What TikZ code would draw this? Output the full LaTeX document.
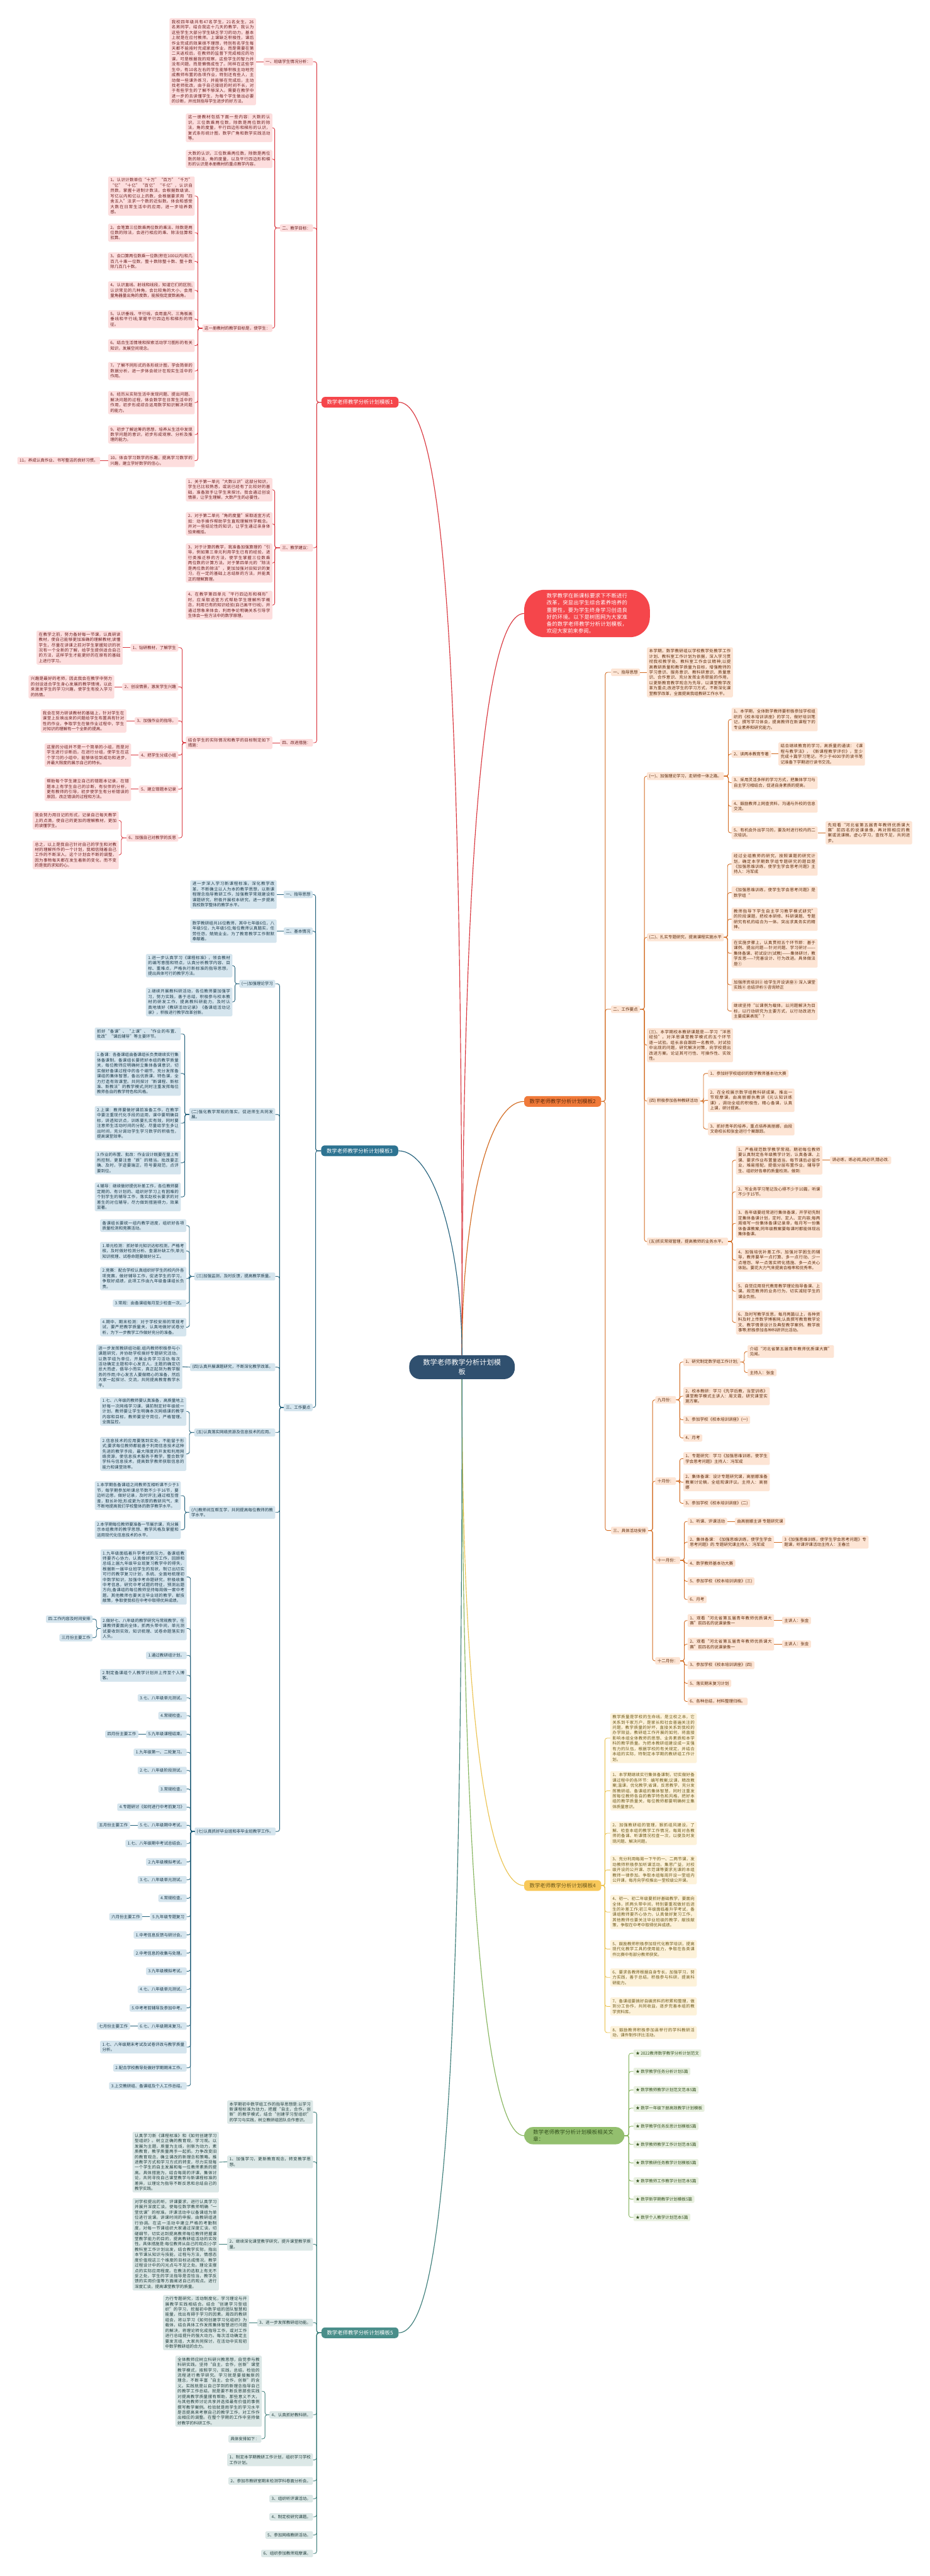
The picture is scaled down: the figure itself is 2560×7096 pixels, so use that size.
\documentclass[tikz,border=0pt]{standalone}
\usepackage{fontspec}
\setmainfont{Noto Sans CJK SC}
\XeTeXlinebreaklocale "zh"
\XeTeXlinebreakskip=0pt plus 1pt
\definecolor{rC}{HTML}{D9363E}\definecolor{rF}{HTML}{FDDEDE}\definecolor{rT}{HTML}{6B1F1F}\definecolor{rN}{HTML}{F5464B}
\definecolor{oC}{HTML}{D2691E}\definecolor{oF}{HTML}{FDE5D5}\definecolor{oT}{HTML}{5E2C0C}\definecolor{oN}{HTML}{F07A3A}
\definecolor{tC}{HTML}{23617C}\definecolor{tF}{HTML}{D5E5EE}\definecolor{tT}{HTML}{1C3A4A}\definecolor{tN}{HTML}{2D7391}
\definecolor{yC}{HTML}{EBC350}\definecolor{yF}{HTML}{FDF2DA}\definecolor{yT}{HTML}{6E5A1A}\definecolor{yN}{HTML}{F8C85A}
\definecolor{gC}{HTML}{86B55E}\definecolor{gF}{HTML}{E8F0E0}\definecolor{gT}{HTML}{35521F}\definecolor{gN}{HTML}{93BF6E}
\definecolor{fC}{HTML}{3C7D79}\definecolor{fF}{HTML}{DCE8E7}\definecolor{fT}{HTML}{223E3D}\definecolor{fN}{HTML}{4A8E8A}
\definecolor{cN}{HTML}{30506F}
\tikzset{
  tw/.style={text width=#1pt, align=justify},
  bx/.style={font=\fontsize{11.3}{14.6}\selectfont, inner xsep=6pt, inner ysep=5pt, rounded corners=3pt},
  rb/.style={bx, fill=rF, text=rT}, ob/.style={bx, fill=oF, text=oT},
  tb/.style={bx, fill=tF, text=tT}, yb/.style={bx, fill=yF, text=yT},
  gb/.style={bx, fill=gF, text=gT}, fb/.style={bx, fill=fF, text=fT},
  L/.style={anchor=west}, R/.style={anchor=east},
  topn/.style={font=\fontsize{14.5}{18}\selectfont, inner xsep=15pt, inner ysep=8pt, rounded corners=10pt},
  ln/.style={draw=#1, line width=1.5pt, rounded corners=6pt},
  mc/.style={draw=#1, line width=2pt},
}
\begin{document}
\begin{tikzpicture}[x=1pt,y=1pt]
\fill[white] (0,0) rectangle (2560,-7096);
\useasboundingbox (0,0) rectangle (2560,-7096);

% ---------------- centre ----------------
\node[fill=cN, text=white, font=\fontsize{19.5}{26}\selectfont, align=center, inner xsep=38pt, inner ysep=11pt, rounded corners=30pt] (C) at (1272,-3766) {数学老师教学分析计划模\\板};

% ---------------- intro ----------------
\node[fill=rN, text=white, font=\fontsize{14.5}{19.4}\selectfont, text width=222pt, align=justify, inner xsep=62pt, inner ysep=10pt, rounded corners=55pt, anchor=west] (intro) at (1443,-1690) {数学教学在新课标要求下不断进行改革，突显出学生综合素养培养的重要性，要为学生终身学习创造良好的环境。以下是树图网为大家准备的数学老师教学分析计划模板，欢迎大家前来参阅。};

% ---------------- module 1 (red) ----------------
\node[topn, fill=rN, text=white, anchor=west] (m1) at (885,-1108) {数学老师教学分析计划模板1};
\node[rb,R] (r1) at (862,-170) {一、班级学生情况分析：};
\node[rb,R] (r2) at (862,-628) {二、教学目标：};
\node[rb,R] (r3) at (862,-1509) {三、教学建议：};
\node[rb,R] (r4) at (862,-2046) {四、改进措施：};
\node[rb,R,tw=226] (r1a) at (705,-170) {我校四年级共有47名学生，21名女生，26名男同学，结合我这十几天的教学，我认为这些学生大部分学生缺乏学习的动力，基本上就是在应付教师。上课缺乏积极性，课后作业完成的效果很不理想，特别有名学生每天都不能按时完成家庭作业，而是需要在第二天返校后，在教师的监督下完成相应的功课，可是根据我的观察，这些学生的智力并没有问题，而是懒惰成性了。同样在这些学生中，有10名左右的学生能够积极主动地完成教师布置的各项作业，特别还有些人，主动做一些课外练习，并能够在完成后，主动找老师批改，由于自己接班的时间不长，对于有些学生的了解不够深入，需要在教学中进一步的去读懂学生，为每个学生做出必要的诊断，并找到指导学生进步的好方法。};
\node[rb,R,tw=226] (r2a) at (750,-352) {这一册教材包括下面一些内容：大数的认识，三位数乘两位数，除数是两位数的除法，角的度量，平行四边形和梯形的认识，复式条形统计图，数学广角和数学实践活动等。};
\node[rb,R,tw=226] (r2b) at (750,-438) {大数的认识，三位数乘两位数，除数是两位数的除法，角的度量，以及平行四边形和梯形的认识是本册教材的重点教学内容。};
\node[rb,R] (r2c) at (750,-904) {这一册教材的教学目标是，使学生：};
\node[rb,R,tw=226] (ra1) at (536,-540) {1。认识计数单位“十万”“百万”“千万”“亿”“十亿”“百亿”“千亿”，认识自然数，掌握十进制计数法，会根据数级读、写亿以内和亿以上的数，会根据要求用“四舍五入”法求一个数的近似数。体会和感受大数在日常生活中的应用，进一步培养数感。};
\node[rb,R,tw=226] (ra2) at (536,-641) {2。会笔算三位数乘两位数的乘法、除数是两位数的除法，会进行相应的乘、除法估算和验算。};
\node[rb,R,tw=226] (ra3) at (536,-720) {3。会口算两位数乘一位数(积在100以内)和几百几十乘一位数，整十数除整十数、整十数除几百几十数。};
\node[rb,R,tw=226] (ra4) at (536,-800) {4。认识直线、射线和线段，知道它们的区别;认识常见的几种角，会比较角的大小，会用量角器量出角的度数，能按指定度数画角。};
\node[rb,R,tw=226] (ra5) at (536,-879) {5。认识垂线、平行线，会用直尺、三角板画垂线和平行线;掌握平行四边形和梯形的特征。};
\node[rb,R,tw=226] (ra6) at (536,-952) {6。结合生活情境和探索活动学习图形的有关知识，发展空间观念。};
\node[rb,R,tw=226] (ra7) at (536,-1022) {7。了解不同形式的条形统计图，学会简单的数据分析，进一步体会统计在现实生活中的作用。};
\node[rb,R,tw=226] (ra8) at (536,-1109) {8。经历从实际生活中发现问题、提出问题、解决问题的过程，体会数学在日常生活中的作用，初步形成综合运用数学知识解决问题的能力。};
\node[rb,R,tw=226] (ra9) at (536,-1197) {9。初步了解运筹的思想，培养从生活中发现数学问题的意识，初步形成观察、分析及推理的能力。};
\node[rb,R,tw=226] (ra10) at (536,-1269) {10。体会学习数学的乐趣，提高学习数学的兴趣，建立学好数学的信心。};
\node[rb,R] (ra11) at (276,-1269) {11。养成认真作业、书写整洁的良好习惯。};
\node[rb,R,tw=226] (rb1) at (750,-1349) {1、关于第一单元“大数认识”这部分知识，学生已比较熟悉，或说已经有了比较好的基础，准备放手让学生来探讨。我会通过创设情景，让学生理解，大数产生的必要性。};
\node[rb,R,tw=226] (rb2) at (750,-1443) {2、对于第二单元“角的度量”采取适宜方式如：动手操作帮助学生直观理解所学概念。并对一些结论性的知识，让学生通过亲身体验来概括。};
\node[rb,R,tw=226] (rb3) at (750,-1551) {3、对于计算的教学，我准备加强算理的“引导，例如第三单元利用学生已有的经验，进行类推迁移的方法，使学生掌握三位数乘两位数的计算方法。对于第四单元的“除法是两位数的除法”，更加加强对旧知识的复习，在一定的基础上总结新的方法，并能真正的理解算理。};
\node[rb,R,tw=226] (rb4) at (750,-1667) {4、在教学第四单元“平行四边形和梯形”时，应采取适宜方式帮助学生理解所学概念，利用已有的知识经验(自己画平行线)，并通过想象来体会，利用争论明确关系引导学生体会一些方法中的数学原理。};
\node[rb,R,tw=226] (r4a) at (750,-2046) {结合学生的实际情况和教学的目标制定如下措施：};
\node[rb,R] (rc1) at (491,-1784) {1、钻研教材，了解学生};
\node[rb,R] (rc2) at (491,-1892) {2、创设情景，激发学生兴趣};
\node[rb,R] (rc3) at (491,-1986) {3、加强作业的指导。};
\node[rb,R] (rc4) at (491,-2080) {4、把学生分成小组};
\node[rb,R] (rc5) at (491,-2174) {5、建立错题本记录};
\node[rb,R] (rc6) at (491,-2308) {6、加强自己对教学的反思};
\node[rb,R,tw=225] (rc1a) at (338,-1784) {在教学之前，努力备好每一节课，认真研读教材，使自己能够更加准确的理解教材;读懂学生，尽量在讲课之前对学生掌握知识的状况有一个全新的了解，给学生提供适合自己的方法，这样学生才能更好的在原有的基础上进行学习。};
\node[rb,R,tw=224] (rc2a) at (315,-1892) {兴趣是最好的老师，因此我会在教学中努力的创设适合学生身心发展的教学情境，以此来激发学生的学习兴趣，使学生有投入学习的热情。};
\node[rb,R,tw=224] (rc3a) at (348,-1986) {我会在努力研读教材的基础上，针对学生在课堂上反映出来的问题给学生布置具有针对性的作业，争取学生在做作业过程中，学生对知识的理解有一个全新的提高。};
\node[rb,R,tw=226] (rc4a) at (361,-2080) {这里的分组并不是一个简单的小组，而是对学生进行诊断后，在进行分组，使学生在这个学习的小组中，能够体验到成功和进步，并最大限度的展示自己的特长。};
\node[rb,R,tw=226] (rc5a) at (361,-2174) {帮助每个学生建立自己的错题本记录，在错题本上有学生自己的诊断，有伙伴的分析，更有教师的引导，初步使学生有分析错误的原因，改正错误的过程和方法。};
\node[rb,R,tw=225] (rc6a) at (327,-2260) {我会努力用日记的形式，记录自己每天教学上的点滴，使自己的更加的理解教材，更加的读懂学生。};
\node[rb,R,tw=225] (rc6b) at (327,-2355) {总之，以上是我自己针对自己的学生和对教材的理解所作的一个计划，我相信随着自己工作的不断深入，这个计划会不断的调整，因为事物每天都在发生着新的变化，而不变的是我的求知的心。};

\foreach \c in {r1,r2,r3,r4} \draw[ln=rC] (m1.west) -- ++(-13,0) |- (\c.east);
\draw[ln=rC] (r1.west) -- (r1a.east);
\foreach \c in {r2a,r2b,r2c} \draw[ln=rC] (r2.west) -- ++(-14,0) |- (\c.east);
\foreach \c in {ra1,ra2,ra3,ra4,ra5,ra6,ra7,ra8,ra9,ra10} \draw[ln=rC] (r2c.west) -- ++(-12,0) |- (\c.east);
\draw[ln=rC] (ra10.west) -- (ra11.east);
\foreach \c in {rb1,rb2,rb3,rb4} \draw[ln=rC] (r3.west) -- ++(-14,0) |- (\c.east);
\draw[ln=rC] (r4.west) -- (r4a.east);
\foreach \c in {rc1,rc2,rc3,rc4,rc5,rc6} \draw[ln=rC] (r4a.west) -- ++(-10,0) |- (\c.east);
\draw[ln=rC] (rc1.west) -- (rc1a.east);
\draw[ln=rC] (rc2.west) -- (rc2a.east);
\draw[ln=rC] (rc3.west) -- (rc3a.east);
\draw[ln=rC] (rc4.west) -- (rc4a.east);
\draw[ln=rC] (rc5.west) -- (rc5a.east);
\foreach \c in {rc6a,rc6b} \draw[ln=rC] (rc6.west) -- ++(-14,0) |- (\c.east);

% ---------------- module 2 (orange) ----------------
\node[topn, fill=oN, text=oT, anchor=west] (m2) at (1443,-3034) {数学老师教学分析计划模板2};
\node[ob,L] (o1) at (1682,-1852) {一、指导思想};
\node[ob,L] (o2) at (1682,-2780) {二、工作要点};
\node[ob,L] (o3) at (1682,-4216) {三、具体活动安排};
\node[ob,L,tw=225] (o1a) at (1781,-1852) {本学期，数学教研组以学校教学处教学工作计划、教科室工作计划为依据，深入学习贯彻我校教学处、教科室工作会议精神;以提高教研质量和教学质量为目标，增强教师的学习意识、服务意识、教科研意识、质量意识、合作意识、充分发挥业务职能的作用，以更新教育教学观念为先导，以课堂教学改革为重点;改进学生的学习方式，不断深化课堂教学改革，全面提高我组教研工作水平。};
\node[ob,L] (o2a) at (1781,-2138) {(一)、加强理论学习，走研修一体之路。};
\node[ob,L] (o2b) at (1781,-2582) {(二)、扎实专题研究，提高课程实施水平};
\node[ob,L,tw=225] (o2c) at (1781,-2879) {(三)、本学期校本教研课题是----学习“洋思经验”，对洋思课堂教学模式的五个环节逐一试验。组长亲自跟踪一名教师，对试验中出现的问题，研究解决对策，向学校提出改进方案。论证其可行性、可操作性、实效性。};
\node[ob,L] (o2d) at (1781,-3033) {(四) 积极参加各种教研活动};
\node[ob,L] (o2e) at (1781,-3420) {(五)抓实常规管理，提高教师的业务水平。};
\node[ob,L,tw=225] (oa1) at (2014,-1982) {1、本学期，全体数学教师要积极参加学校组织的《校本培训讲座》的学习，做好培训笔记，撰写学习体会，提高教师在新课程下的专业素养和研究能力。};
\node[ob,L] (oa2) at (2014,-2077) {2、读两本教育专著};
\node[ob,L,tw=226] (oa2x) at (2143,-2077) {结合继续教育的学习，高质量的通读：《课程与教学法》，《新课程教学评价》，至少完成十篇学习笔记，不少于4000字的读书笔记准备下学期进行读书交流。};
\node[ob,L,tw=225] (oa3) at (2014,-2156) {3、采用灵活多样的学习方式，把集体学习与自主学习相结合，促进自身素质的提高。};
\node[ob,L,tw=225] (oa4) at (2014,-2221) {4、鼓励教师上网查资料，沟通与外校的信息交流。};
\node[ob,L,tw=225] (oa5) at (2014,-2294) {5、有机会外出学习的，要及时进行校内的二次培训。};
\node[ob,L,tw=226] (oa5x) at (2273,-2294) {先观看“河北省第五届青年教师优质课大赛”前四名的说课录像，再对照相应的教案或说课稿，虚心学习，查找不足，共同进步。};
\node[ob,L,tw=225] (ob1) at (2014,-2380) {经过全组教师的研究，按照课题的研究计划，确定本学期数学组专题研究的题目是《加强思维训练，使学生学会思考问题》主持人：冯军成};
\node[ob,L,tw=225] (ob2) at (2014,-2459) {《加强思维训练，使学生学会思考问题》是数学组“};
\node[ob,L,tw=225] (ob3) at (2014,-2532) {教师指导下学生自主学习教学模式研究”的阶段课题，把校本研修、科研课题、专题研究有机的结合为一体。突出求真务实的精神。};
\node[ob,L,tw=225] (ob4) at (2014,-2626) {在实施步骤上，认真贯彻五个环节即：基于课例、提出问题----针对问题、学习研讨-------集体备课、初试设计(试教)-------集体研讨，教学反思------?完善设计、行为改进。具体做法是①};
\node[ob,L,tw=225] (ob5) at (2014,-2713) {加强师资培训② 给学生开设讲座③ 深入课堂实践④ 总结评析⑤咨询矫正};
\node[ob,L,tw=225] (ob6) at (2014,-2785) {继续坚持“以课例为载体，以问题解决为目标，以行动研究为主要方式，以行动改进为主要成果表现”?};
\node[ob,L] (od1) at (1949,-2957) {1、参加好学校组织的数学教师基本功大赛};
\node[ob,L,tw=226] (od2) at (1949,-3031) {2、在全校展示数学组教科研成果，推出一节观摩课，由高丽娜执教讲《元认知训练课》，调动全组的积极性，精心备课，认真上课，研讨提高。};
\node[ob,L,tw=226] (od3) at (1949,-3110) {3、抓好青年的培养，重点培养高丽娜，由段文奇校长和张金进行个案跟踪。};
\node[ob,L,tw=226] (oe1) at (2026,-3196) {1、严格规范数学教学常规。期初每位教师要认真制定各年级教学计划，认真备课、上课、要求作业布置量适当，每节课后必留作业，难易搭配，提倡分层布置作业，辅导学生、组织好各章的质量检测。做到:};
\node[ob,L] (oe1x) at (2285,-3196) {讲必练，练必阅,阅必评,错必改.};
\node[ob,L,tw=226] (oe2) at (2026,-3283) {2、写业务学习笔记及心得不少于10篇，听课不少于15节。};
\node[ob,L,tw=226] (oe3) at (2026,-3370) {3、各年级要经常进行集体备课，开学初先制定集体备课计划，定时、定人、定内容;每两周填写一份集体备课记录单，每月写一份集体备课教案;同年级教案要每课时都能体现出集体备课。};
\node[ob,L,tw=226] (oe4) at (2026,-3471) {4、加强培优补差工作，加强对学困生的辅导，教师要早一点打算、多一点行动、少一点埋怨、早一点落实转化措施、多一点关心体贴。要花大力气来提高合格率和优秀率。};
\node[ob,L,tw=226] (oe5) at (2026,-3557) {5、自觉应用现代教育教学理论指导备课、上课。规范教师的业务行为，切实减轻学生的课业负担。};
\node[ob,L,tw=226] (oe6) at (2026,-3643) {6、及时写教学反思，每月两篇以上，各种资料及时上传数学博客网;认真撰写教育教学论文、教学情景设计及典型教学案例、教学故事等;积极参加各种科研评比活动。};
\node[ob,L] (o3a) at (1804,-3856) {九月份：};
\node[ob,L] (o3b) at (1804,-4080) {十月份：};
\node[ob,L] (o3c) at (1804,-4298) {十一月份：};
\node[ob,L] (o3d) at (1804,-4575) {十二月份：};
\node[ob,L] (s1) at (1881,-3752) {1、研究制定数学组工作计划;};
\node[ob,L,tw=226] (s1x) at (2058,-3723) {介绍“河北省第五届青年教师优质课大赛”见闻。};
\node[ob,L] (s1y) at (2058,-3781) {主持人：张金};
\node[ob,L,tw=226] (s2) at (1881,-3846) {2、校本教研：学习《先学后教，当堂训练》课堂教学模式主讲人：周文霞，研究课堂实施方案。};
\node[ob,L] (s3) at (1881,-3911) {3、参加学校《校本培训讲座》(一)};
\node[ob,L] (s4) at (1881,-3961) {4、月考};
\node[ob,L,tw=226] (u1) at (1881,-4018) {1、专题研究：学习《加强思维训练，使学生学会思考问题》主持人：冯军成};
\node[ob,L,tw=226] (u2) at (1881,-4083) {2、集体备课：设计专题研究课，高丽娜准备教案讨论稿，全组观课评议。主持人：高丽娜};
\node[ob,L] (u3) at (1881,-4141) {3、参加学校《校本培训讲座》(二)};
\node[ob,L] (v1) at (1893,-4191) {1、听课、评课活动};
\node[ob,L] (v1x) at (2023,-4191) {由高丽娜主讲 专题研究课};
\node[ob,L,tw=226] (v2) at (1893,-4248) {2、集体备课：《加强思维训练，使学生学会思考问题》的.专题研究课主持人：冯军成};
\node[ob,L,tw=226] (v2x) at (2153,-4248) {3《加强思维训练，使学生学会思考问题》专题课，听课评课活动主持人：王春兰};
\node[ob,L] (v4) at (1893,-4306) {4、数学教师基本功大赛};
\node[ob,L] (v5) at (1893,-4356) {5、参加学校《校本培训讲座》(三)};
\node[ob,L] (v6) at (1893,-4406) {6、月考};
\node[ob,L,tw=226] (w1) at (1893,-4464) {1、观看“河北省第五届青年教师优质课大赛”前四名的说课录像一};
\node[ob,L] (w1x) at (2153,-4464) {主讲人：张金};
\node[ob,L,tw=226] (w2) at (1893,-4529) {2、观看“河北省第五届青年教师优质课大赛”前四名的说课录像一};
\node[ob,L] (w2x) at (2153,-4529) {主讲人：张金};
\node[ob,L] (w3) at (1893,-4587) {3、参加学校《校本培训讲座》(四)};
\node[ob,L] (w5) at (1893,-4637) {5、落实期末复习计划};
\node[ob,L] (w6) at (1893,-4687) {6、各种总结，材料整理归档。};

\foreach \c in {o1,o2,o3} \draw[ln=oC] (m2.east) -- ++(11,0) |- (\c.west);
\draw[ln=oC] (o1.east) -- (o1a.west);
\foreach \c in {o2a,o2b,o2c,o2d,o2e} \draw[ln=oC] (o2.east) -- ++(12,0) |- (\c.west);
\foreach \c in {oa1,oa2,oa3,oa4,oa5} \draw[ln=oC] (o2a.east) -- ++(12,0) |- (\c.west);
\draw[ln=oC] (oa2.east) -- (oa2x.west);
\draw[ln=oC] (oa5.east) -- (oa5x.west);
\foreach \c in {ob1,ob2,ob3,ob4,ob5,ob6} \draw[ln=oC] (o2b.east) -- ++(10,0) |- (\c.west);
\foreach \c in {od1,od2,od3} \draw[ln=oC] (o2d.east) -- ++(9,0) |- (\c.west);
\foreach \c in {oe1,oe2,oe3,oe4,oe5,oe6} \draw[ln=oC] (o2e.east) -- ++(12,0) |- (\c.west);
\draw[ln=oC] (oe1.east) -- (oe1x.west);
\foreach \c in {o3a,o3b,o3c,o3d} \draw[ln=oC] (o3.east) -- ++(12,0) |- (\c.west);
\foreach \c in {s1,s2,s3,s4} \draw[ln=oC] (o3a.east) -- ++(10,0) |- (\c.west);
\foreach \c in {s1x,s1y} \draw[ln=oC] (s1.east) -- ++(11,0) |- (\c.west);
\foreach \c in {u1,u2,u3} \draw[ln=oC] (o3b.east) -- ++(10,0) |- (\c.west);
\foreach \c in {v1,v2,v4,v5,v6} \draw[ln=oC] (o3c.east) -- ++(11,0) |- (\c.west);
\draw[ln=oC] (v1.east) -- (v1x.west);
\draw[ln=oC] (v2.east) -- (v2x.west);
\foreach \c in {w1,w2,w3,w5,w6} \draw[ln=oC] (o3d.east) -- ++(11,0) |- (\c.west);
\draw[ln=oC] (w1.east) -- (w1x.west);
\draw[ln=oC] (w2.east) -- (w2x.west);

% ---------------- module 4 (yellow) ----------------
\node[topn, fill=yN, text=yT, anchor=west] (m4) at (1443,-5194) {数学老师教学分析计划模板4};
\node[yb,L,tw=226] (y0) at (1680,-4788) {教学质量是学校的生命线，是立校之本，它关系到千家万户，是家长和社会普遍关注的问题，教学质量的好坏，直接关系到我校的办学效益，教研组工作开展的如何，将直接影响本组全体教师的思想、业务素质和本学科的教学质量。为把本教研组建设成一支强有力的队伍，根据学校的有关规定，并结合本组的实际，特制定本学期的教研组工作计划。};
\node[yb,L,tw=226] (y1) at (1680,-4933) {1、本学期继续实行集体备课制，切实做好备课过程中的各环节：编写教案;议课，精改教案;温课，优化教学;省课，反思教学，充分发挥教研组、备课组的集体智慧，同时注重发挥每位教师各自的教学特色和风格，把好本组的教学质量关，每位教师都要明确树立集体质量意识。};
\node[yb,L,tw=226] (y2) at (1680,-5050) {2、加强教研组的管理，狠抓组风建设，了解、检查本组的教学工作情况，每周对各教师的备课、听课情况检查一次，以便及时发现问题、解决问题。};
\node[yb,L,tw=226] (y3) at (1680,-5151) {3、充分利用每周一下午的一、二两节课，发动教师积极参加听课活动，集思广益，对校级开设的公开课、示范课等要求无课的本组教师一律参加。争取本组每周开设一堂组内公开课，每月向学校推出一堂校级公开课。};
\node[yb,L,tw=226] (y4) at (1680,-5267) {4、初一、初二年级要抓好基础教学，要面向全体，抓两头带中间，特别要重视做好后进生的补差工作;初三年级面临着升学考试，备课组教师要齐心协力，认真做好复习工作，其他教师也要关注毕业班级的教学，献技献策，争取在中考中取得优异成绩。};
\node[yb,L,tw=226] (y5) at (1680,-5369) {5、鼓励教师积极参加现代化教学培训，提高现代化教学工具的使用能力，争取在各类课件比赛中有部分教师获奖。};
\node[yb,L,tw=226] (y6) at (1680,-5447) {6、要求各教师根据自身专长，加强学习，努力实践，善于总结，积极参与科研，提高科研能力。};
\node[yb,L,tw=226] (y7) at (1680,-5527) {7、备课组要搞好自编资料的积累和整理，做到分工协作，共同收益，逐步完善本组的教学资料库。};
\node[yb,L,tw=226] (y8) at (1680,-5599) {8、鼓励教师积极参加县举行的学科教研活动，课件制作评比活动。};
\foreach \c in {y0,y1,y2,y3,y4,y5,y6,y7,y8} \draw[ln=yC] (m4.east) -- ++(10,0) |- (\c.west);

% ---------------- related (green) ----------------
\node[fill=gN, text=gT, font=\fontsize{14.5}{18}\selectfont, text width=226pt, align=left, inner xsep=25pt, inner ysep=8pt, rounded corners=24pt, anchor=west] (m6) at (1443,-5883) {数学老师教学分析计划模板相关文章：};
\node[gb,L] (g1) at (1744,-5656) {★ 2022教师数学教学分析计划范文};
\node[gb,L] (g2) at (1744,-5706) {★ 数学教学任务分析计划5篇};
\node[gb,L] (g3) at (1744,-5757) {★ 数学教师教学计划范文范本5篇};
\node[gb,L] (g4) at (1744,-5807) {★ 数学一年级下册高效教学计划模板};
\node[gb,L] (g5) at (1744,-5857) {★ 数学教学任务反思计划模板5篇};
\node[gb,L] (g6) at (1744,-5907) {★ 数学教师教学工作计划范本5篇};
\node[gb,L] (g7) at (1744,-5958) {★ 数学教研任务教学计划模板5篇};
\node[gb,L] (g8) at (1744,-6008) {★ 数学教师工作教学计划范本5篇};
\node[gb,L] (g9) at (1744,-6058) {★ 数学新学期教学计划模板5篇};
\node[gb,L] (g10) at (1744,-6108) {★ 数学个人教学计划范本5篇};
\foreach \c in {g1,g2,g3,g4,g5,g6,g7,g8,g9,g10} \draw[ln=gC] (m6.east) -- ++(12,0) |- (\c.west);

% ---------------- module 3 (teal) ----------------
\node[topn, fill=tN, text=white, anchor=west] (m3) at (884,-3170) {数学老师教学分析计划模板3};
\node[tb,R] (t1) at (861,-2464) {一、指导思想};
\node[tb,R] (t2) at (861,-2565) {二、基本情况};
\node[tb,R] (t3) at (861,-3877) {三、工作要点};
\node[tb,R,tw=226] (t1a) at (762,-2464) {进一步深入学习新课程标准，深化教学改革，不断确立以人为本的教学思想，以新课程理念指导教研工作，加强教学常规建设和课题研究，积极开展校本研究，进一步提高我校数学整体的教学水平。};
\node[tb,R,tw=226] (t2a) at (762,-2565) {数学教研组共16位教师，其中七年级6位，八年级5位，九年级5位;每位教师认真踏实，任劳任怨，兢兢业业。为了教育教学工作默默奉献着。};
\node[tb,R] (t3a) at (758,-2710) {(一)加强理论学习};
\node[tb,R,tw=225] (t3b) at (758,-3070) {(二)强化教学常规的落实，促进师生共同发展。};
\node[tb,R] (t3c) at (758,-3516) {(三)加强监测，及时反馈，提高教学质量。};
\node[tb,R] (t3d) at (758,-3766) {(四)认真开展课题研究，不断深化教学改革。};
\node[tb,R] (t3e) at (758,-3946) {(五)认真落实网络资源及信息技术的应用。};
\node[tb,R,tw=225] (t3f) at (758,-4166) {(六)教师间互帮互学，共同提高每位教师的教学水平。};
\node[tb,R] (t3g) at (759,-5045) {(七)认真抓好毕业班和非毕业班教学工作。};
\node[tb,R,tw=226] (ta1) at (640,-2660) {1.进一步认真学习《课程标准》，领会教材的编写意图和特点，认真分析教学内容、目标、重难点，严格执行新标准的指导思想，提出具体可行的教学方法。};
\node[tb,R,tw=226] (ta2) at (640,-2760) {2.继续开展教科研活动，各位教师要加强学习，努力实践，善于总结，积极参与校本教材的研发工作，提高教科研能力，及时认真地填好《教研活动记录》《备课组活动记录》，积极进行教学改革创新。};
\node[tb,R,tw=225] (tb0) at (498,-2848) {抓好“备课”、“上课”、“作业的布置、批改”“课后辅导”等主要环节。};
\node[tb,R,tw=225] (tb1) at (498,-2957) {1.备课：各备课组由备课组长负责继续实行集体备课制，备课组长要把好本组的教学质量关，每位教师应明确树立集体备课意识，切实做好备课过程中的各个细节，充分发挥备课组的集体智慧，备出优质课，特色课，全力打造有效课堂。共同探讨“新课程、新标准、新教法”的教学模式;同时注重发挥每位教师各自的教学特色和风格。};
\node[tb,R,tw=225] (tb2) at (498,-3094) {2.上课：教师要做好课前准备工作，在教学中要注重现代化手段的运用，课中要明确目标，讲透知识点，训练要扎实有效，同时要注意师生活动时间的分配，尽量给学生多让出时间，充分调动学生学习数学的积极性，提高课堂效率。};
\node[tb,R,tw=225] (tb3) at (498,-3203) {3.作业的布置、批改：作业设计既要在量上有所控制，更要注意“质”的精当。批改要正确、及时，字迹要端正，符号要规范，点评要到位。};
\node[tb,R,tw=225] (tb4) at (498,-3297) {4.辅导：继续做好提优补差工作，各位教师要定期的、有计划的、组织好学习上有困难的个别学生的辅导工作，落实赵校长要求的对差生的对位辅导，尽力做到措施得力，效果显著。};
\node[tb,R,tw=225] (tc0) at (513,-3376) {备课组长要统一组内教学进度，组织好各项质量检测和竞赛活动。};
\node[tb,R,tw=225] (tc1) at (513,-3446) {1.单元检测：抓好单元知识达标检测，严格考核，及时做好检测分析、查漏补缺工作;单元知识梳理、试卷命题要做好分工。};
\node[tb,R,tw=225] (tc2) at (513,-3522) {2.竞赛：配合学校认真组织好学生的校内外各项竞赛，做好辅导工作，促进学生的学习，争取好成绩，此项工作由九年级备课组长负责。};
\node[tb,R] (tc3) at (513,-3590) {3.常规：由备课组每月至少检查一次。};
\node[tb,R,tw=225] (tc4) at (513,-3656) {4.期中、期末检测：对于学校安排的常规考试，要严把教学质量关，认真地做好试卷分析，为下一步教学工作做好充分的准备。};
\node[tb,R,tw=225] (td1) at (502,-3765) {进一步发挥教研组功能.组内教师积极参与小课题研究，并协助学校搞好专题研究活动。以数学组为单位，开展业务学习活动.每次活动确定主题和中心发言人，主题的确定切忌大而虚，倡导小而实，真正起到为教学服务的作用;中心发言人要做精心的准备，然后大家一起探讨、交流，共同提高教育教学水平。};
\node[tb,R,tw=225] (te1) at (513,-3888) {1.七、八年级的教师要认真准备，高质量地上好每一次网络学习课，课前制定好年级统一计划，教师要让学生明确本次网络课的教学内容和目标，教师要坚守岗位，严格管理、全面监控。};
\node[tb,R,tw=225] (te2) at (513,-4005) {2.信息技术的应用要落到实处，不能留于形式;要求每位教师都能善于利用信息技术这种先进的教学手段，最大限度的开发和利用网络资源，使信息技术服务于教学，整合数学学科与信息技术，提高数学教师获取信息的能力和课堂效率。};
\node[tb,R,tw=225] (tf1) at (498,-4120) {1.本学期各备课组之间教师互相听课不少于3节，每学期参加听课总节数不少于16节，要边听边思，做好记录，及时评注;通过相互借鉴，取长补短;形成更为浓厚的教研风气，来不断地提高我们学校整体的数学教学水平。};
\node[tb,R,tw=225] (tf2) at (498,-4214) {2.本学期每位教师要准备一节展示课，充分展示本组教师的教学思想、教学风格及掌握和运用现代化信息技术的水平。};
\node[tb,R,tw=225] (c1) at (514,-4344) {1.九年级面临着升学考试的压力，备课组教师要齐心协力，认真做好复习工作，回顾和总结上届九年级毕业班复习教学中的得失，根据新一届毕业班学生的现状，制订出切实可行的教学复习计划，系统、全面地梳理初中数学知识，加强中考命题研究，积极收集中考信息，研究中考试题的特征，预测出题方向;备课组的每位教师坚持每周做一套中考题。其他教师也要关注毕业班的教学，献技献策，争取使我校在中考中取得优异成绩。};
\node[tb,R,tw=225] (c2) at (514,-4486) {2.做好七、八年级的教学研究与常规教学，任课教师要面向全体，抓两头带中间，单元测试要收到实效，知识梳理、试卷命题落实到人头。};
\node[tb,R] (c2a) at (255,-4460) {四.工作内容及时间安排};
\node[tb,R] (c2b) at (255,-4511) {三月份主要工作};
\node[tb,R] (c3) at (514,-4560) {1.通过教研组计划。};
\node[tb,R,tw=226] (c4) at (514,-4615) {2.制定备课组个人教学计划并上传至个人博客。};
\node[tb,R] (c5) at (514,-4677) {3.七、八年级单元测试。};
\node[tb,R] (c6) at (514,-4726) {4.常规检查。};
\node[tb,R] (c7) at (514,-4777) {5.九年级课程结束。};
\node[tb,R] (c7a) at (381,-4777) {四月份主要工作};
\node[tb,R] (c8) at (514,-4827) {1.九年级第一、二轮复习。};
\node[tb,R] (c9) at (514,-4877) {2.七、八年级阶段测试。};
\node[tb,R] (c10) at (514,-4928) {3.常规检查。};
\node[tb,R] (c11) at (514,-4978) {4.专题研讨《如何进行中考前复习》};
\node[tb,R] (c12) at (514,-5028) {5.七、八年级期中考试。};
\node[tb,R] (c12a) at (358,-5028) {五月份主要工作};
\node[tb,R] (c13) at (514,-5078) {1.七、八年级期中考试总结会。};
\node[tb,R] (c14) at (514,-5129) {2.九年级模拟考试。};
\node[tb,R] (c15) at (514,-5178) {3.七、八年级单元测试。};
\node[tb,R] (c16) at (514,-5229) {4.常规检查。};
\node[tb,R] (c17) at (514,-5280) {5.九年级专题复习};
\node[tb,R] (c17a) at (392,-5280) {六月份主要工作};
\node[tb,R] (c18) at (514,-5330) {1.中考信息反馈与研讨会。};
\node[tb,R] (c19) at (514,-5380) {2.中考信息的收集与处理。};
\node[tb,R] (c20) at (514,-5430) {3.九年级模拟考试。};
\node[tb,R] (c21) at (514,-5480) {4.七、八年级单元测试。};
\node[tb,R] (c22) at (514,-5531) {5.中考考前辅导及参加中考。};
\node[tb,R] (c23) at (514,-5581) {6.七、八年级期末复习。};
\node[tb,R] (c23a) at (358,-5581) {七月份主要工作};
\node[tb,R,tw=226] (c24) at (514,-5639) {1.七、八年级期末考试及试卷评改与教学质量分析。};
\node[tb,R] (c25) at (514,-5696) {2.配合学校教导处做好学期期末工作。};
\node[tb,R] (c26) at (514,-5746) {3.上交教研组、备课组及个人工作总结。};

\foreach \c in {t1,t2,t3} \draw[ln=tC] (m3.west) -- ++(-15,0) |- (\c.east);
\draw[ln=tC] (t1.west) -- (t1a.east);
\draw[ln=tC] (t2.west) -- (t2a.east);
\foreach \c in {t3a,t3b,t3c,t3d,t3e,t3f,t3g} \draw[ln=tC] (t3.west) -- ++(-11,0) |- (\c.east);
\foreach \c in {ta1,ta2} \draw[ln=tC] (t3a.west) -- ++(-12,0) |- (\c.east);
\foreach \c in {tb0,tb1,tb2,tb3,tb4} \draw[ln=tC] (t3b.west) -- ++(-12,0) |- (\c.east);
\foreach \c in {tc0,tc1,tc2,tc3,tc4} \draw[ln=tC] (t3c.west) -- ++(-13,0) |- (\c.east);
\draw[ln=tC] (t3d.west) -- (td1.east);
\foreach \c in {te1,te2} \draw[ln=tC] (t3e.west) -- ++(-13,0) |- (\c.east);
\foreach \c in {tf1,tf2} \draw[ln=tC] (t3f.west) -- ++(-12,0) |- (\c.east);
\foreach \c in {c1,c2,c3,c4,c5,c6,c7,c8,c9,c10,c11,c12,c13,c14,c15,c16,c17,c18,c19,c20,c21,c22,c23,c24,c25,c26} \draw[ln=tC] (t3g.west) -- ++(-11,0) |- (\c.east);
\foreach \c in {c2a,c2b} \draw[ln=tC] (c2.west) -- ++(-11,0) |- (\c.east);
\draw[ln=tC] (c7.west) -- (c7a.east);
\draw[ln=tC] (c12.west) -- (c12a.east);
\draw[ln=tC] (c17.west) -- (c17a.east);
\draw[ln=tC] (c23.west) -- (c23a.east);

% ---------------- module 5 ----------------
\node[topn, fill=fN, text=white, anchor=west] (m5) at (885,-6426) {数学老师教学分析计划模板5};
\node[fb,R,tw=224] (f0) at (862,-5818) {本学期初中数学组工作的指导思想是:以学习新课程标准为动力，把握“自主，合作，创新”的教学模式，结合“创建学习型组织”的学习与实践，树立教研组团队合作意识。};
\node[fb,R,tw=224] (f1) at (862,-5955) {1、加强学习，更新教育观念，转变教学思想。};
\node[fb,R,tw=224] (f2) at (862,-6182) {2、继续深化课堂教学研究，提升课堂教学质量。};
\node[fb,R] (f3) at (862,-6398) {3、进一步发挥教研组功能。};
\node[fb,R] (f4) at (862,-6652) {4、认真抓好教科研。};
\node[fb,R,tw=224] (f5) at (862,-6776) {1、制定本学期教研工作计划，组织学习学校工作计划。};
\node[fb,R] (f6) at (862,-6834) {2、参加市教研室期末检测学科卷面分析会。};
\node[fb,R] (f7) at (862,-6883) {3、组织听评课活动。};
\node[fb,R] (f8) at (862,-6933) {4、制定校研究课题。};
\node[fb,R] (f9) at (862,-6983) {5、参加网络教研活动。};
\node[fb,R] (f10) at (862,-7034) {6、组织参加教师观摩课。};
\node[fb,R,tw=226] (f1x) at (603,-5956) {认真学习新《课程标准》和《如何创建学习型组织》。树立正确的教育观，学习观。以发展为主题，质量为主线，创新为动力，素质教育，教学质量两手一起抓。力争改变旧的教育观念，确立课改的新理念和策略，推进教学方式和学习方式的转变，尽力实现每一个学生的自主发展和每一位教师素质的提高。具体措施为，结合每周的评课，集体讨论，共同寻找自己课堂教学与新课程标准的差异，以理论为指导不断反思和总结自己的教学实践。};
\node[fb,R,tw=226] (f2x) at (603,-6182) {对学校提出的听，评课要求，进行认真学习并展开深度汇谈，使每位数学教师明确“一堂优课”的标准。评课活动中以备课组为单位进行说课。讲课时间的申报，由教研组进行协调。在这一活动中建立严格的考勤制度，对每一节课组织大家通过深度汇谈，切磋细节，切实达到提高教师每位教师把握课堂教学能力的目的，提高教研组活动的实效性。具体措施是:每位教师从自己的观点(小学教科室工作计划出发，结合教学实际，指出本节课从知识与技能，过程与方法，情感态度价值观这三个维度的目标达成情况，教学过程设计中的闪光点与不足之处。理论支撑点的实际应用程度。在教法的选取上有无不妥之处，学生的学法指导是否恰当，教学反馈的实用价值等方面阐述自己的观点。进行深度汇谈，提高课堂教学的质量。};
\node[fb,R,tw=225] (f3x) at (686,-6398) {力行专题研究，活动制度化，学习理论与开展教学实践相结合。结合“创建学习型组织”的学习，挖掘初中数学组的团队智慧和能量，找出有碍于学习的因素。周四的教研组会，将以学习《如何创建学习化组织》为载体，结合具体工作发挥集体智慧进行问题的解决，将理论转化成指导工作，或对工作进行总结提升的强大动力。每次活动确定主要发言组，大家共同探讨，在活动中实现初中数学教研组的合力。};
\node[fb,R,tw=226] (f4x) at (721,-6587) {全体教师应树立科研兴教思想，自觉参与教科研实践。坚持“自主，合作，创新”课堂教学模式，按照学习，实践，总结，检验的流程进行教学研究。学习就是要接触新的理念，不断丰富“自主，合作，创新”的含义。实践就是以自己学到的新理念指导自己的教学工作总结，就是要不断反思那些实践对提高教学质量摆有帮助，那些意义不大，与其他教师讨论共享并选择最有价值的事例撰写教学案例。检验就是用学生的学习水平是否提高来考察自己的教学工作，对工作作出相应的调整。在整个学期的工作中坚持做好教学的科研工作。};
\node[fb,R] (f4y) at (720,-6718) {具体安排如下：};
\foreach \c in {f0,f1,f2,f3,f4,f5,f6,f7,f8,f9,f10} \draw[ln=fC] (m5.west) -- ++(-13,0) |- (\c.east);
\draw[ln=fC] (f1.west) -- (f1x.east);
\draw[ln=fC] (f2.west) -- (f2x.east);
\draw[ln=fC] (f3.west) -- (f3x.east);
\foreach \c in {f4x,f4y} \draw[ln=fC] (f4.west) -- ++(-12,0) |- (\c.east);

% ---------------- main branches ----------------
\draw[mc=rC] (C.north) .. controls (1272,-1900) and (1230,-1108) .. (m1.east);
\draw[mc=rC] (C.north) .. controls (1272,-2400) and (1330,-1690) .. (intro.west);
\draw[mc=oC] (C.north) .. controls (1272,-3350) and (1340,-3034) .. (m2.west);
\draw[mc=tC] (C.north) .. controls (1272,-3450) and (1200,-3170) .. (m3.east);
\draw[mc=yC] (C.south) .. controls (1272,-4700) and (1340,-5194) .. (m4.west);
\draw[mc=gC] (C.south) .. controls (1272,-5200) and (1340,-5883) .. (m6.west);
\draw[mc=fC] (C.south) .. controls (1272,-5600) and (1230,-6426) .. (m5.east);
\end{tikzpicture}
\end{document}
